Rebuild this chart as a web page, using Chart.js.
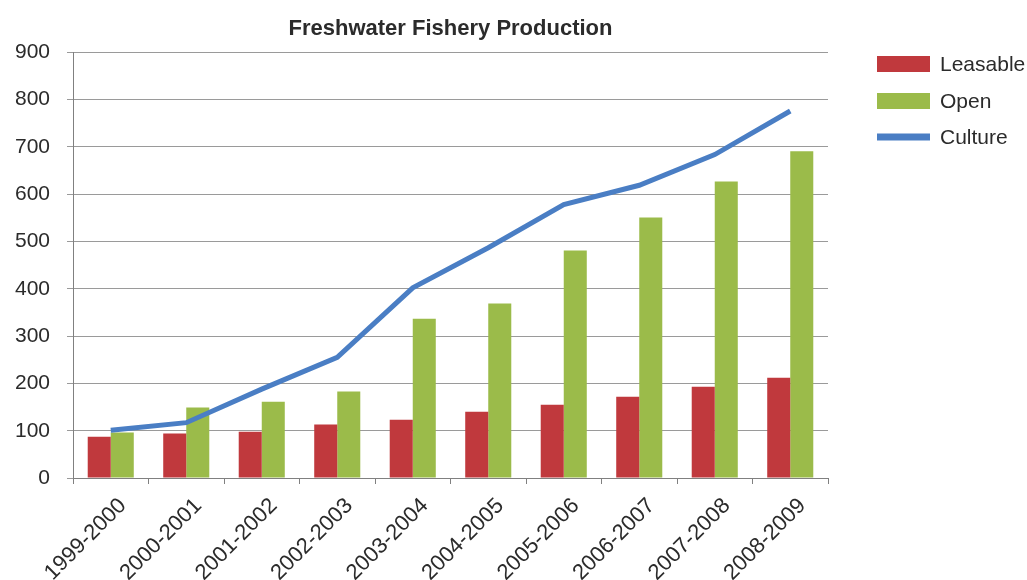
<!DOCTYPE html>
<html>
<head>
<meta charset="utf-8">
<script src="https://cdn.jsdelivr.net/npm/chart.js@4.4.0/dist/chart.umd.min.js"></script>
<style>
  html, body { margin: 0; padding: 0; background: #fff; }
  #wrap { width: 1027px; height: 580px; }
</style>
</head>
<body>
<div id="wrap"><canvas id="myChart" width="1027" height="580"></canvas></div>
<script>
// data
const years = ["1999-2000", "2000-2001", "2001-2002", "2002-2003", "2003-2004",
               "2004-2005", "2005-2006", "2006-2007", "2007-2008", "2008-2009"];
const leasable = [87, 94, 98, 113, 123, 140, 155, 172, 193, 212];
const open = [96, 149, 161, 183, 337, 369, 481, 551, 627, 691];
const culture = [101, 117, 188, 255, 402, 487, 578, 619, 684, 776];
const yTicks = [0, 100, 200, 300, 400, 500, 600, 700, 800, 900];

const FONT = "'Liberation Sans', Arial, sans-serif";
const TEXT = "#2b2b2b";

// legend on the right, drawn on the canvas
const sideLegend = {
  id: "sideLegend",
  afterDraw(chart) {
    const ctx = chart.ctx;
    const rows = [
      { ds: chart.data.datasets[1], y: 64, h: 16 },
      { ds: chart.data.datasets[2], y: 101, h: 16 },
      { ds: chart.data.datasets[0], y: 137, h: 7 }
    ];
    ctx.save();
    ctx.font = "21px " + FONT;
    ctx.textBaseline = "middle";
    rows.forEach(r => {
      ctx.fillStyle = r.ds.type === "line" ? r.ds.borderColor : r.ds.backgroundColor;
      ctx.fillRect(877, r.y - r.h / 2, 53, r.h);
      ctx.fillStyle = TEXT;
      ctx.fillText(r.ds.label, 940, r.y + 1);
    });
    ctx.restore();
  }
};

new Chart(document.getElementById("myChart").getContext("2d"), {
  data: {
    labels: years,
    datasets: [
      {
        type: "line",
        label: "Culture",
        data: culture,
        borderColor: "#4A7EC4",
        borderWidth: 5,
        pointRadius: 0,
        tension: 0,
        order: 0
      },
      {
        type: "bar",
        label: "Leasable",
        data: leasable,
        backgroundColor: "#C0393D",
        categoryPercentage: 0.61,
        barPercentage: 1,
        order: 1
      },
      {
        type: "bar",
        label: "Open",
        data: open,
        backgroundColor: "#9BBB4A",
        categoryPercentage: 0.61,
        barPercentage: 1,
        order: 1
      }
    ]
  },
  options: {
    responsive: false,
    animation: false,
    layout: { padding: { left: 0, right: 199, top: 0, bottom: 0 } },
    plugins: {
      legend: { display: false },
      tooltip: { enabled: false },
      title: {
        display: true,
        fullSize: false,
        text: "Freshwater Fishery Production",
        color: TEXT,
        font: { family: FONT, size: 22, weight: "bold" },
        padding: { top: 16, bottom: 10 }
      }
    },
    scales: {
      x: {
        offset: true,
        grid: { offset: true, drawOnChartArea: false, drawTicks: true, tickLength: 6, color: "#808080" },
        border: { color: "#808080", width: 1 },
        ticks: {
          color: TEXT,
          font: { family: FONT, size: 22 },
          minRotation: 45,
          maxRotation: 45,
          padding: 9,
          labelOffset: 12
        },
        afterFit: s => { s.height = 102; }
      },
      y: {
        min: 0,
        max: 900,
        afterBuildTicks: s => { s.ticks = yTicks.map(v => ({ value: v })); },
        grid: { color: "#9a9a9a", lineWidth: 1, tickLength: 6 },
        border: { color: "#808080", width: 1 },
        ticks: {
          color: TEXT,
          font: { family: FONT, size: 21 },
          padding: 17
        },
        afterFit: s => { s.width = 73; }
      }
    }
  },
  plugins: [sideLegend]
});
</script>
</body>
</html>
